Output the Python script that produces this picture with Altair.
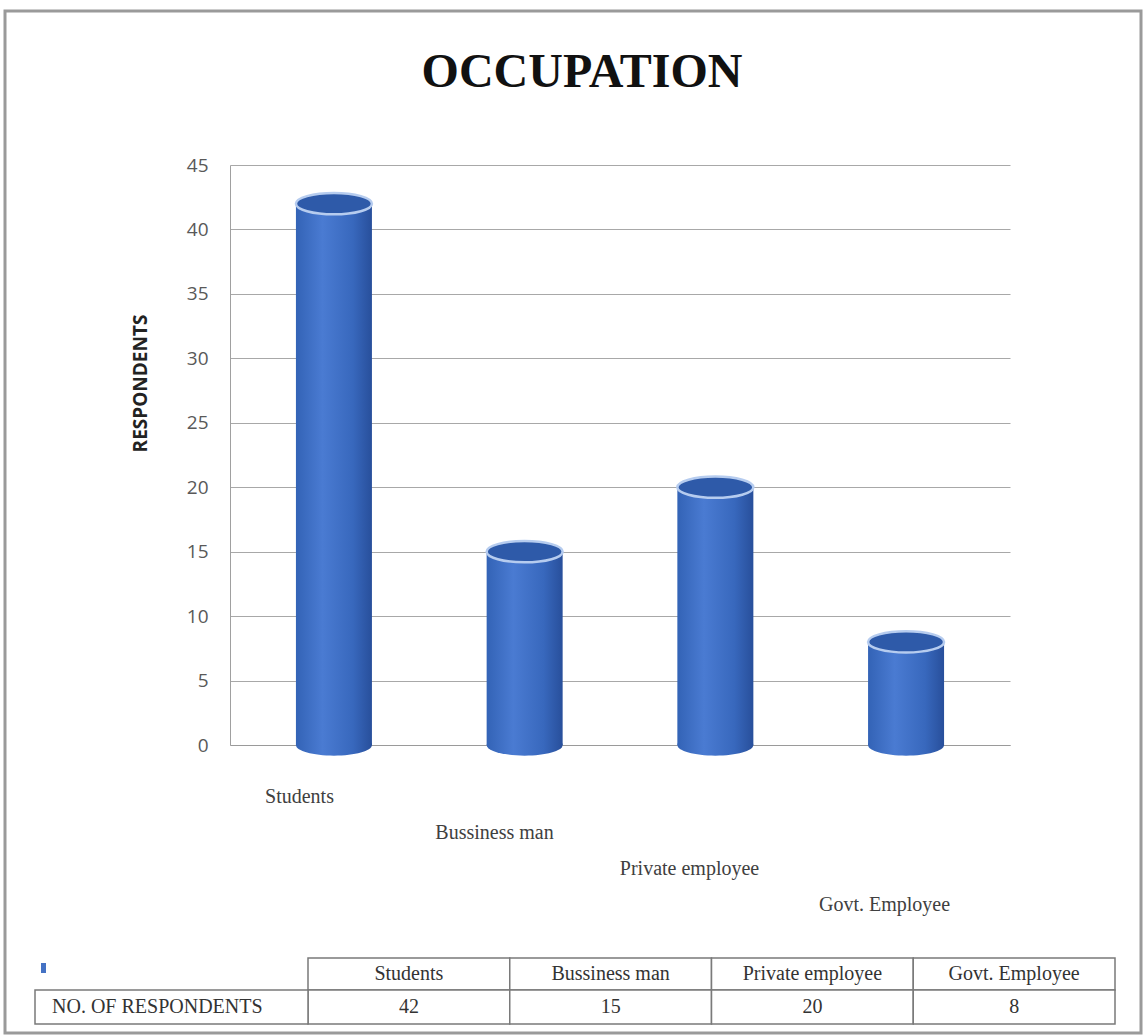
import altair as alt
import pandas as pd

# Survey data: occupation of respondents
occupations = ["Students", "Bussiness man", "Private employee", "Govt. Employee"]
respondents = [42, 15, 20, 8]
y_ticks = [0, 5, 10, 15, 20, 25, 30, 35, 40, 45]
series_name = "NO. OF RESPONDENTS"
chart_title = "OCCUPATION"

df = pd.DataFrame({"Occupation": occupations, "Respondents": respondents})

SERIF = "Liberation Serif"
SANS = "Open Sans"
BLUE = "#4472c4"

bar_x_scale = alt.Scale(domain=occupations, paddingInner=0.6, paddingOuter=0.345)

x_bar = alt.X(
    "Occupation:N",
    sort=occupations,
    scale=bar_x_scale,
    axis=alt.Axis(title=None, labels=False, ticks=False, domainColor="#9a9a9a"),
)
y_bar = alt.Y(
    "Respondents:Q",
    scale=alt.Scale(domain=[0, 45], nice=False),
    axis=alt.Axis(
        values=y_ticks,
        title="RESPONDENTS",
        titleFont=SANS,
        titleFontSize=19,
        titleFontWeight="bold",
        titleColor="#222222",
        titleAngle=-90,
        titleX=-90,
        titleY=218,
        titleAlign="center",
        titleBaseline="middle",
        labelFont=SANS,
        labelFontSize=19,
        labelColor="#595959",
        labelPadding=22,
        ticks=False,
        domainColor="#a0a0a0",
        gridColor="#a8a8a8",
        gridWidth=1,
    ),
)

# Cylinder body shading
cyl_fill = alt.Gradient(
    gradient="linear",
    x1=0, x2=1, y1=0, y2=0,
    stops=[
        alt.GradientStop(offset=0, color="#3363b6"),
        alt.GradientStop(offset=0.35, color="#4a7bd2"),
        alt.GradientStop(offset=0.75, color="#3868bd"),
        alt.GradientStop(offset=1, color="#284f9b"),
    ],
)
ellipse = "M -1 0 A 1 0.28 0 1 1 1 0 A 1 0.28 0 1 1 -1 0 Z"
cyl_w = 76

base = alt.Chart(df)

# rounded base of each cylinder, sitting on zero
cyl_bottom = (
    base.transform_calculate(Respondents="0")
    .mark_point(shape=ellipse, size=cyl_w * cyl_w, filled=True, fill=cyl_fill, strokeWidth=0, opacity=1)
    .encode(x=x_bar, y=y_bar)
)

cyl_body = base.mark_bar(size=cyl_w, fill=cyl_fill).encode(x=x_bar, y=y_bar)

cyl_top = base.mark_point(
    shape=ellipse, size=cyl_w * cyl_w, filled=True, fill="#2e5aa9",
    stroke="#b6ccef", strokeWidth=2.5, opacity=1,
).encode(x=x_bar, y=y_bar)

bars = alt.layer(cyl_bottom, cyl_body, cyl_top)

# Category labels, stepping down from left to right
cat_labels = base.mark_text(
    font=SERIF, fontSize=20, color="#404040", baseline="middle", dx=-28
).encode(
    x=alt.X("Occupation:N", sort=occupations, scale=bar_x_scale, axis=None),
    y=alt.Y(
        "Occupation:N",
        sort=occupations,
        scale=alt.Scale(type="point", domain=occupations, range=[632, 740], padding=0),
        axis=None,
    ),
    text="Occupation:N",
)

# Data table under the plot
x_tab = alt.X(
    "Occupation:N",
    sort=occupations,
    scale=alt.Scale(domain=occupations, range=[78, 885], paddingInner=0, paddingOuter=0),
    axis=None,
)
cell_style = dict(fill="white", stroke="#7a7a7a", strokeWidth=1.5)

head_cells = base.mark_rect(**cell_style).encode(x=x_tab, y=alt.value(793), y2=alt.value(825))
value_cells = base.mark_rect(**cell_style).encode(x=x_tab, y=alt.value(825), y2=alt.value(859))
head_text = base.mark_text(font=SERIF, fontSize=20, color="#333333", baseline="middle").encode(
    x=x_tab, y=alt.value(809), text="Occupation:N"
)
value_text = base.mark_text(font=SERIF, fontSize=20, color="#333333", baseline="middle").encode(
    x=x_tab, y=alt.value(842), text="Respondents:Q"
)

one = alt.Chart(pd.DataFrame({"series": [series_name], "title": [chart_title]}))
row_cell = one.mark_rect(**cell_style).encode(
    x=alt.value(-195), x2=alt.value(78), y=alt.value(825), y2=alt.value(859)
)
row_key = one.mark_rect(fill=BLUE).encode(
    x=alt.value(-189), x2=alt.value(-184), y=alt.value(798), y2=alt.value(808)
)
row_text = one.mark_text(font=SERIF, fontSize=20, color="#333333", align="left", baseline="middle").encode(
    x=alt.value(-178), y=alt.value(842), text="series:N"
)

table = alt.layer(head_cells, value_cells, row_cell, head_text, value_text, row_key, row_text)

frame = one.mark_rect(fillOpacity=0, stroke="#9a9a9a", strokeWidth=3).encode(
    x=alt.value(-225), x2=alt.value(911), y=alt.value(-154), y2=alt.value(868)
)

title = one.mark_text(
    font=SERIF, fontSize=48, fontWeight="bold", color="#111111", align="center", baseline="alphabetic"
).encode(x=alt.value(352), y=alt.value(-78), text="title:N")

chart = (
    alt.layer(frame, title, bars, cat_labels, table)
    .resolve_scale(x="independent", y="independent")
    .properties(
        width=780,
        height=580,
        autosize=alt.AutoSizeParams(type="none"),
        padding={"left": 230, "top": 165, "right": 133, "bottom": 291},
    )
    .configure(background="white", view=alt.ViewConfig(stroke="transparent", strokeWidth=0))
)

chart.save("out.html", embed_options={"renderer": "svg", "actions": False})
